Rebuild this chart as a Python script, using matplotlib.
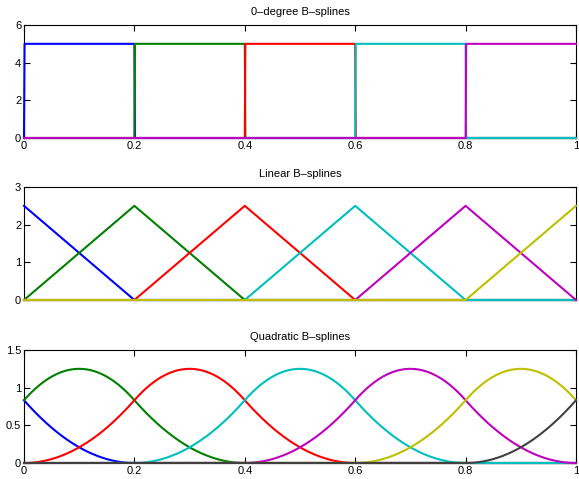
import numpy as np
import matplotlib
matplotlib.use("Agg")
import matplotlib.pyplot as plt

# knot vectors for each panel (uniform spacing 0.2)
knots0 = [0.0, 0.2, 0.4, 0.6, 0.8, 1.0]
knots1 = [-0.2, 0.0, 0.2, 0.4, 0.6, 0.8, 1.0, 1.2]
knots2 = [-0.4, -0.2, 0.0, 0.2, 0.4, 0.6, 0.8, 1.0, 1.2, 1.4]

titles = ["0\u2013degree B\u2013splines", "Linear B\u2013splines", "Quadratic B\u2013splines"]
ylims = [6, 3, 1.5]
yticks = [[0, 2, 4, 6], [0, 1, 2, 3], [0, 0.5, 1, 1.5]]
yticklabels = [["0", "2", "4", "6"], ["0", "1", "2", "3"], ["0", "0.5", "1", "1.5"]]
xticks = [0, 0.2, 0.4, 0.6, 0.8, 1.0]
xticklabels = ["0", "0.2", "0.4", "0.6", "0.8", "1"]

# matlab default plot colours
colors = ["#0000ff", "#008000", "#ff0000", "#00bfbf", "#bf00bf", "#bfbf00", "#404040"]


def bspline(x, t, i, k):
    # Cox-de Boor recursion
    if k == 0:
        return ((x > t[i]) & (x <= t[i + 1])).astype(float)
    out = np.zeros_like(x)
    d1 = t[i + k] - t[i]
    d2 = t[i + k + 1] - t[i + 1]
    if d1 > 0:
        out += (x - t[i]) / d1 * bspline(x, t, i, k - 1)
    if d2 > 0:
        out += (t[i + k + 1] - x) / d2 * bspline(x, t, i + 1, k - 1)
    return out


x = np.linspace(0, 1, 1001)

plt.rcParams["font.family"] = ["Liberation Sans", "DejaVu Sans"]
fig = plt.figure(figsize=(5.79, 4.79), dpi=100)

W, H = 579.0, 479.0
boxes = [(25, 138), (187, 300), (350, 463)]
for p, t in enumerate([knots0, knots1, knots2]):
    top, bot = boxes[p]
    ax = fig.add_axes([24 / W, 1 - bot / H, 552 / W, (bot - top) / H])
    n = len(t) - p - 1
    for i in range(n):
        y = bspline(x, t, i, p) / (t[i + p + 1] - t[i])
        ax.plot(x, y, color=colors[i], lw=1.5, clip_on=False, zorder=3)
    ax.set_xlim(0, 1)
    ax.set_ylim(0, ylims[p])
    ax.set_yticks(yticks[p])
    ax.set_yticklabels(yticklabels[p])
    if p == 1:
        ax.set_xticks([])
    else:
        ax.set_xticks(xticks)
        ax.set_xticklabels(xticklabels)
    ax.tick_params(direction="in", top=True, right=True, length=4, width=0.8,
                   labelsize=8, pad=2)
    for s in ax.spines.values():
        s.set_linewidth(0.8)
    ax.set_title(titles[p], fontsize=8, pad=7)

fig.savefig("out.png", dpi=100)
